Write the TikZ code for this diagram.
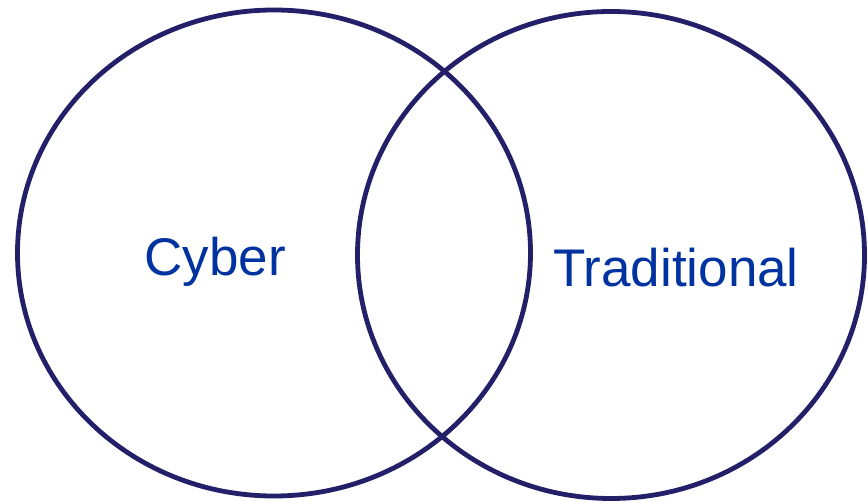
\documentclass[tikz,border=0pt]{standalone}
\usepackage{fontspec}
\setmainfont{Liberation Sans}
\definecolor{ring}{RGB}{35,32,105}
\definecolor{lbl}{RGB}{0,51,160}
\begin{document}
\begin{tikzpicture}[x=1pt,y=-1pt,
  setring/.style={draw=ring,line width=4.8pt},
  setlabel/.style={text=lbl,font=\fontsize{53}{60}\selectfont,inner sep=0pt,anchor=center}]
\useasboundingbox (0,0) rectangle (868,502);
\draw[setring] (274,253) ellipse [x radius=256.5, y radius=243];
\draw[setring] (611,255) ellipse [x radius=253.5, y radius=243.5];
\node[setlabel] (cyber) at (215,262) {Cyber};
\node[setlabel] (trad) at (676,268) {Traditional};
\end{tikzpicture}
\end{document}
